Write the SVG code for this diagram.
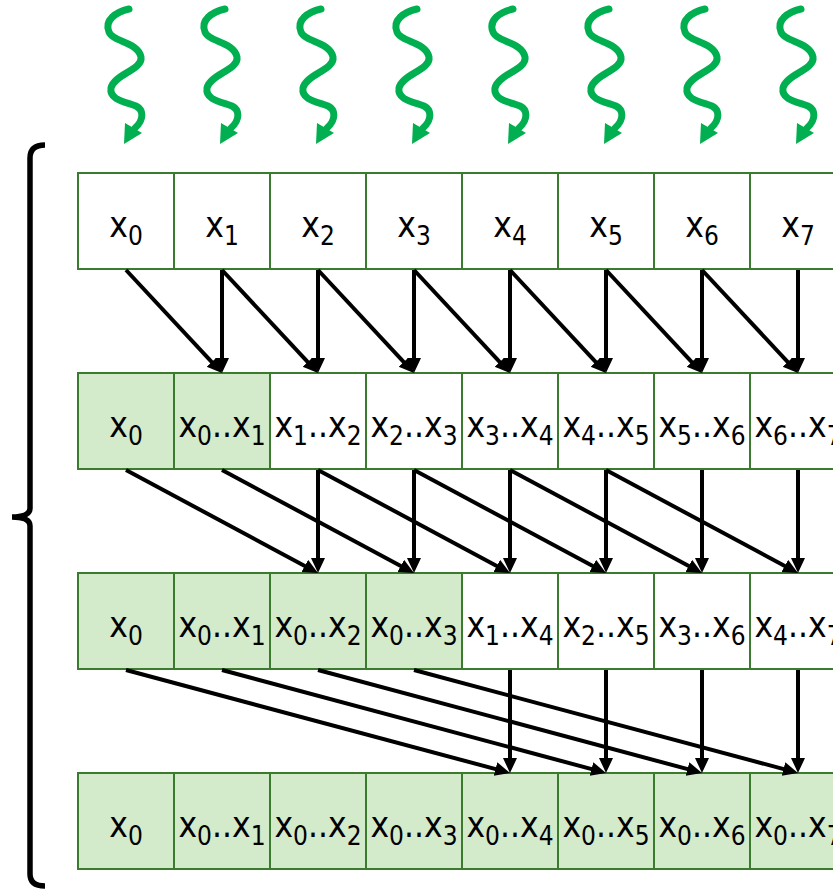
<svg xmlns="http://www.w3.org/2000/svg" xmlns:xlink="http://www.w3.org/1999/xlink" width="833" height="889" viewBox="0 0 833 889">
  <style>
    .cell { fill: #ffffff; stroke: #3b7b2d; stroke-width: 2; }
    .done { fill: #d3eacb; stroke: #3b7b2d; stroke-width: 2; }
    .t { font-family: "DejaVu Sans Condensed", "DejaVu Sans", sans-serif; font-stretch: condensed; font-size: 35px; fill: #000; text-anchor: middle; }
    .s { font-size: 26px; }
    .a { fill: none; stroke: #000; stroke-width: 4; marker-end: url(#ah); }
    .brace { fill: none; stroke: #000; stroke-width: 5.5; stroke-linecap: butt; }
  </style>
  <defs>
    <marker id="ah" markerUnits="userSpaceOnUse" markerWidth="16" markerHeight="15" refX="9" refY="7" orient="auto">
      <path d="M0,0 L15,7 L0,14 Z" fill="#000"/>
    </marker>
    <!-- wavy incoming arrow, drawn around x = 0 -->
    <g id="wave">
      <path d="M3,9 C-10,12 -22,20 -17,32 C-13,42 12,42 15,57 C17,70 -12,74 -15,88 C-17,100 0,102 10,106 C18,110 18,120 9,128" fill="none" stroke="#00b050" stroke-width="7" stroke-linecap="round"/>
      <polygon points="-2,144 -1,123 16,133" fill="#00b050"/>
    </g>
  </defs>

  <!-- inputs arriving -->
  <g id="inputs">
    <use xlink:href="#wave" x="126"/>
    <use xlink:href="#wave" x="222"/>
    <use xlink:href="#wave" x="318"/>
    <use xlink:href="#wave" x="414"/>
    <use xlink:href="#wave" x="510"/>
    <use xlink:href="#wave" x="606"/>
    <use xlink:href="#wave" x="702"/>
    <use xlink:href="#wave" x="798"/>
  </g>

  <!-- left brace -->
  <path class="brace" d="M45,145 Q30,145 30,158 L30,508 Q30,517 12,517 Q30,517 30,526 L30,874 Q30,886 45,886"/>

  <!-- row 1 -->
  <g id="r1c0"><rect class="cell" x="78" y="173" width="96" height="96"/><text class="t" x="126" y="237">x<tspan class="s" dy="8">0</tspan></text></g>
  <g id="r1c1"><rect class="cell" x="174" y="173" width="96" height="96"/><text class="t" x="222" y="237">x<tspan class="s" dy="8">1</tspan></text></g>
  <g id="r1c2"><rect class="cell" x="270" y="173" width="96" height="96"/><text class="t" x="318" y="237">x<tspan class="s" dy="8">2</tspan></text></g>
  <g id="r1c3"><rect class="cell" x="366" y="173" width="96" height="96"/><text class="t" x="414" y="237">x<tspan class="s" dy="8">3</tspan></text></g>
  <g id="r1c4"><rect class="cell" x="462" y="173" width="96" height="96"/><text class="t" x="510" y="237">x<tspan class="s" dy="8">4</tspan></text></g>
  <g id="r1c5"><rect class="cell" x="558" y="173" width="96" height="96"/><text class="t" x="606" y="237">x<tspan class="s" dy="8">5</tspan></text></g>
  <g id="r1c6"><rect class="cell" x="654" y="173" width="96" height="96"/><text class="t" x="702" y="237">x<tspan class="s" dy="8">6</tspan></text></g>
  <g id="r1c7"><rect class="cell" x="750" y="173" width="96" height="96"/><text class="t" x="798" y="237">x<tspan class="s" dy="8">7</tspan></text></g>

  <!-- row 2 -->
  <g id="r2c0"><rect class="done" x="78" y="373" width="96" height="96"/><text class="t" x="126" y="437">x<tspan class="s" dy="8">0</tspan></text></g>
  <g id="r2c1"><rect class="done" x="174" y="373" width="96" height="96"/><text class="t" x="222" y="437">x<tspan class="s" dy="8">0</tspan><tspan dy="-8">..x</tspan><tspan class="s" dy="8">1</tspan></text></g>
  <g id="r2c2"><rect class="cell" x="270" y="373" width="96" height="96"/><text class="t" x="318" y="437">x<tspan class="s" dy="8">1</tspan><tspan dy="-8">..x</tspan><tspan class="s" dy="8">2</tspan></text></g>
  <g id="r2c3"><rect class="cell" x="366" y="373" width="96" height="96"/><text class="t" x="414" y="437">x<tspan class="s" dy="8">2</tspan><tspan dy="-8">..x</tspan><tspan class="s" dy="8">3</tspan></text></g>
  <g id="r2c4"><rect class="cell" x="462" y="373" width="96" height="96"/><text class="t" x="510" y="437">x<tspan class="s" dy="8">3</tspan><tspan dy="-8">..x</tspan><tspan class="s" dy="8">4</tspan></text></g>
  <g id="r2c5"><rect class="cell" x="558" y="373" width="96" height="96"/><text class="t" x="606" y="437">x<tspan class="s" dy="8">4</tspan><tspan dy="-8">..x</tspan><tspan class="s" dy="8">5</tspan></text></g>
  <g id="r2c6"><rect class="cell" x="654" y="373" width="96" height="96"/><text class="t" x="702" y="437">x<tspan class="s" dy="8">5</tspan><tspan dy="-8">..x</tspan><tspan class="s" dy="8">6</tspan></text></g>
  <g id="r2c7"><rect class="cell" x="750" y="373" width="96" height="96"/><text class="t" x="798" y="437">x<tspan class="s" dy="8">6</tspan><tspan dy="-8">..x</tspan><tspan class="s" dy="8">7</tspan></text></g>

  <!-- row 3 -->
  <g id="r3c0"><rect class="done" x="78" y="573" width="96" height="96"/><text class="t" x="126" y="637">x<tspan class="s" dy="8">0</tspan></text></g>
  <g id="r3c1"><rect class="done" x="174" y="573" width="96" height="96"/><text class="t" x="222" y="637">x<tspan class="s" dy="8">0</tspan><tspan dy="-8">..x</tspan><tspan class="s" dy="8">1</tspan></text></g>
  <g id="r3c2"><rect class="done" x="270" y="573" width="96" height="96"/><text class="t" x="318" y="637">x<tspan class="s" dy="8">0</tspan><tspan dy="-8">..x</tspan><tspan class="s" dy="8">2</tspan></text></g>
  <g id="r3c3"><rect class="done" x="366" y="573" width="96" height="96"/><text class="t" x="414" y="637">x<tspan class="s" dy="8">0</tspan><tspan dy="-8">..x</tspan><tspan class="s" dy="8">3</tspan></text></g>
  <g id="r3c4"><rect class="cell" x="462" y="573" width="96" height="96"/><text class="t" x="510" y="637">x<tspan class="s" dy="8">1</tspan><tspan dy="-8">..x</tspan><tspan class="s" dy="8">4</tspan></text></g>
  <g id="r3c5"><rect class="cell" x="558" y="573" width="96" height="96"/><text class="t" x="606" y="637">x<tspan class="s" dy="8">2</tspan><tspan dy="-8">..x</tspan><tspan class="s" dy="8">5</tspan></text></g>
  <g id="r3c6"><rect class="cell" x="654" y="573" width="96" height="96"/><text class="t" x="702" y="637">x<tspan class="s" dy="8">3</tspan><tspan dy="-8">..x</tspan><tspan class="s" dy="8">6</tspan></text></g>
  <g id="r3c7"><rect class="cell" x="750" y="573" width="96" height="96"/><text class="t" x="798" y="637">x<tspan class="s" dy="8">4</tspan><tspan dy="-8">..x</tspan><tspan class="s" dy="8">7</tspan></text></g>

  <!-- row 4 -->
  <g id="r4c0"><rect class="done" x="78" y="773" width="96" height="96"/><text class="t" x="126" y="837">x<tspan class="s" dy="8">0</tspan></text></g>
  <g id="r4c1"><rect class="done" x="174" y="773" width="96" height="96"/><text class="t" x="222" y="837">x<tspan class="s" dy="8">0</tspan><tspan dy="-8">..x</tspan><tspan class="s" dy="8">1</tspan></text></g>
  <g id="r4c2"><rect class="done" x="270" y="773" width="96" height="96"/><text class="t" x="318" y="837">x<tspan class="s" dy="8">0</tspan><tspan dy="-8">..x</tspan><tspan class="s" dy="8">2</tspan></text></g>
  <g id="r4c3"><rect class="done" x="366" y="773" width="96" height="96"/><text class="t" x="414" y="837">x<tspan class="s" dy="8">0</tspan><tspan dy="-8">..x</tspan><tspan class="s" dy="8">3</tspan></text></g>
  <g id="r4c4"><rect class="done" x="462" y="773" width="96" height="96"/><text class="t" x="510" y="837">x<tspan class="s" dy="8">0</tspan><tspan dy="-8">..x</tspan><tspan class="s" dy="8">4</tspan></text></g>
  <g id="r4c5"><rect class="done" x="558" y="773" width="96" height="96"/><text class="t" x="606" y="837">x<tspan class="s" dy="8">0</tspan><tspan dy="-8">..x</tspan><tspan class="s" dy="8">5</tspan></text></g>
  <g id="r4c6"><rect class="done" x="654" y="773" width="96" height="96"/><text class="t" x="702" y="837">x<tspan class="s" dy="8">0</tspan><tspan dy="-8">..x</tspan><tspan class="s" dy="8">6</tspan></text></g>
  <g id="r4c7"><rect class="done" x="750" y="773" width="96" height="96"/><text class="t" x="798" y="837">x<tspan class="s" dy="8">0</tspan><tspan dy="-8">..x</tspan><tspan class="s" dy="8">7</tspan></text></g>

  <!-- connectors -->
  <g id="connectors">
    <!-- step 1: offset 1 -->
    <path class="a" d="M126,270 L217.9,368.6"/>
    <path class="a" d="M222,270 L313.9,368.6"/>
    <path class="a" d="M318,270 L409.9,368.6"/>
    <path class="a" d="M414,270 L505.9,368.6"/>
    <path class="a" d="M510,270 L601.9,368.6"/>
    <path class="a" d="M606,270 L697.9,368.6"/>
    <path class="a" d="M702,270 L793.9,368.6"/>
    <path class="a" d="M222,270 L222,367"/>
    <path class="a" d="M318,270 L318,367"/>
    <path class="a" d="M414,270 L414,367"/>
    <path class="a" d="M510,270 L510,367"/>
    <path class="a" d="M606,270 L606,367"/>
    <path class="a" d="M702,270 L702,367"/>
    <path class="a" d="M798,270 L798,367"/>
    <!-- step 2: offset 2 -->
    <path class="a" d="M126,470 L312.7,570.2"/>
    <path class="a" d="M222,470 L408.7,570.2"/>
    <path class="a" d="M318,470 L504.7,570.2"/>
    <path class="a" d="M414,470 L600.7,570.2"/>
    <path class="a" d="M510,470 L696.7,570.2"/>
    <path class="a" d="M606,470 L792.7,570.2"/>
    <path class="a" d="M318,470 L318,567"/>
    <path class="a" d="M414,470 L414,567"/>
    <path class="a" d="M510,470 L510,567"/>
    <path class="a" d="M606,470 L606,567"/>
    <path class="a" d="M702,470 L702,567"/>
    <path class="a" d="M798,470 L798,567"/>
    <!-- step 3: offset 4 -->
    <path class="a" d="M126,670 L504.2,771.4"/>
    <path class="a" d="M222,670 L600.2,771.4"/>
    <path class="a" d="M318,670 L696.2,771.4"/>
    <path class="a" d="M414,670 L792.2,771.4"/>
    <path class="a" d="M510,670 L510,767"/>
    <path class="a" d="M606,670 L606,767"/>
    <path class="a" d="M702,670 L702,767"/>
    <path class="a" d="M798,670 L798,767"/>
  </g>
</svg>
